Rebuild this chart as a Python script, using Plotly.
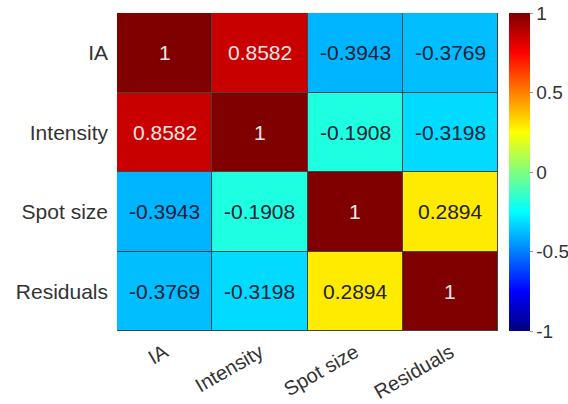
import plotly.graph_objects as go

labels = ["IA", "Intensity", "Spot size", "Residuals"]
corr = [
    [1.0, 0.8582, -0.3943, -0.3769],
    [0.8582, 1.0, -0.1908, -0.3198],
    [-0.3943, -0.1908, 1.0, 0.2894],
    [-0.3769, -0.3198, 0.2894, 1.0],
]
cbar_vals = [1, 0.5, 0, -0.5, -1]
cbar_text = ["1", "0.5", "0", "-0.5", "-1"]

jet = [
    [0.0, "rgb(0,0,128)"],
    [0.125, "rgb(0,0,255)"],
    [0.375, "rgb(0,255,255)"],
    [0.625, "rgb(255,255,0)"],
    [0.875, "rgb(255,0,0)"],
    [1.0, "rgb(128,0,0)"],
]

FONT = "Liberation Sans, Arial, sans-serif"

fig = go.Figure(go.Heatmap(
    z=corr, x=labels, y=labels, zmin=-1, zmax=1, colorscale=jet,
    xgap=1, ygap=1,
    colorbar=dict(
        x=1.029, xanchor="left", xpad=0, y=0.5, yanchor="middle", len=1,
        lenmode="fraction", thickness=21, ypad=0, outlinewidth=0,
        tickvals=cbar_vals, ticktext=cbar_text, ticks="outside", ticklen=3,
        tickcolor="#999", tickfont=dict(family=FONT, size=19, color="#333"),
    ),
    hoverinfo="skip",
))

annotations = []
for i, row_lab in enumerate(labels):
    for j, col_lab in enumerate(labels):
        v = corr[i][j]
        txt = "1" if v == 1 else f"{v:.4f}"
        col = "#f5e6e6" if v > 0.75 else "#1c2236"
        annotations.append(dict(x=col_lab, y=row_lab, text=txt, showarrow=False,
                                font=dict(family=FONT, size=21, color=col)))

fig.update_layout(
    width=568, height=404,
    margin=dict(l=117, r=70, t=13, b=73, autoexpand=False),
    paper_bgcolor="white", plot_bgcolor="#444",
    annotations=annotations,
    font=dict(family=FONT, size=21, color="#333"),
)
fig.update_xaxes(tickangle=-30, showgrid=False, zeroline=False, ticks="",
                 ticklabelstandoff=5,
                 tickfont=dict(family=FONT, size=20, color="#333"))
fig.update_yaxes(autorange="reversed", showgrid=False, zeroline=False, ticks="",
                 ticklabelstandoff=8,
                 tickfont=dict(family=FONT, size=21, color="#333"))

fig.write_html("out.html", config={"displayModeBar": False},
               post_script="document.body.style.margin='0';document.body.style.overflow='hidden';")
